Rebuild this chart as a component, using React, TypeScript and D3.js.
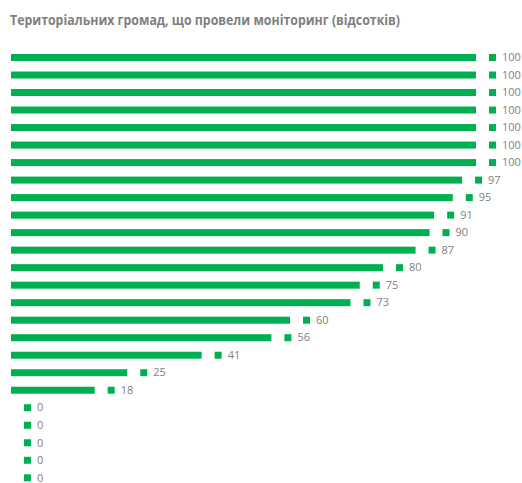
import React from "react";
import * as d3 from "d3";

const title = "Територіальних громад, що провели моніторинг (відсотків)";
const categories = [
  "r1","r2","r3","r4","r5","r6","r7","r8","r9","r10","r11","r12","r13",
  "r14","r15","r16","r17","r18","r19","r20","r21","r22","r23","r24","r25",
];
const values = [100,100,100,100,100,100,100,97,95,91,90,87,80,75,73,60,56,41,25,18,0,0,0,0,0];

const W = 522;
const H = 483;
const GREEN = "#00B050";
const GRAY = "#7F7F7F";

export default function App() {
  const x = d3.scaleLinear().domain([0, 100]).range([11, 476]);
  const y = d3.scalePoint<string>().domain(categories).range([57.5, 477.8]);
  const barH = 7;
  const markerGap = 13;
  const markerSize = 7;
  return (
    <svg width={W} height={H} style={{ position: "absolute", left: 0, top: 0, display: "block" }}>
      <rect width={W} height={H} fill="#fff" />
      <text
        x={10}
        y={25}
        fontFamily="'Open Sans', 'Noto Sans', sans-serif"
        fontWeight="bold"
        fontSize={14}
        fill={GRAY}
        textLength={390}
        lengthAdjust="spacingAndGlyphs"
      >
        {title}
      </text>
      {categories.map((c, i) => {
        const v = values[i];
        const cy = y(c) as number;
        const end = x(v);
        return (
          <g key={c}>
            {v > 0 && (
              <rect x={x(0)} y={cy - barH / 2} width={end - x(0)} height={barH} fill={GREEN} />
            )}
            <rect
              x={end + markerGap}
              y={cy - markerSize / 2}
              width={markerSize}
              height={markerSize}
              fill={GREEN}
            />
            <text
              x={end + markerGap + markerSize + 6}
              y={cy}
              dy="0.34em"
              fontFamily="'Open Sans', 'Noto Sans', sans-serif"
              fontSize={11}
              fill={GRAY}
            >
              {v}
            </text>
          </g>
        );
      })}
    </svg>
  );
}
